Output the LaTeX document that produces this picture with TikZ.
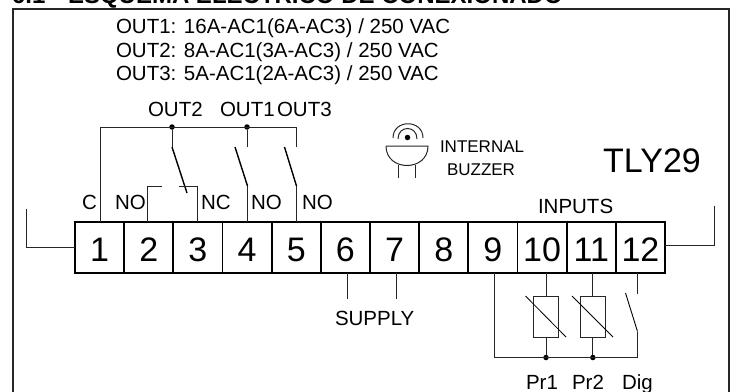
\documentclass[tikz,border=0pt]{standalone}
\usepackage{fontspec}
\setmainfont{Liberation Sans}
\newcommand{\fsz}[1]{\fontsize{#1}{#1}\selectfont}
\begin{document}
\begin{tikzpicture}[x=1pt,y=-1pt,
  lbl/.style={inner sep=0pt,outer sep=0pt,anchor=base west,font=\fsz{20.5}},
  small/.style={inner sep=0pt,outer sep=0pt,anchor=base west,font=\fsz{17}},
  titletext/.style={inner sep=0pt,outer sep=0pt,anchor=base west,font=\fsz{24}\bfseries},
  term/.style={draw=black,line width=1.9pt,inner sep=0pt,outer sep=0pt,minimum width=49.17pt,minimum height=51pt,text height=27pt,text depth=0pt,font=\fsz{34}},
  wire/.style={draw=black!85,line width=0.8pt},
  blade/.style={draw=black,line width=1.4pt},
  thinblade/.style={draw=black,line width=0.9pt},
  frame/.style={draw=black!85,line width=1.1pt},
  dotnode/.style={circle,fill=black,inner sep=0pt,minimum size=5.5pt},
  res/.style={draw=black!85,line width=0.8pt,inner sep=0pt,minimum width=24.5pt,minimum height=41pt}]
\useasboundingbox (0,0) rectangle (733,391);
\clip (0,0) rectangle (733,391);
% title
\node[titletext] (tnum) at (12,3) {6.1};
\node[titletext] (ttl) at (68,3) {ESQUEMA ELECTRICO DE CONEXIONADO};
% frame
\draw[frame] (13,392) -- (13,9) -- (729,9) -- (729,392);
% ratings
\node[lbl] (r1) at (116,33) {OUT1: 16A-AC1(6A-AC3) / 250 VAC};
\node[lbl] (r2) at (116,57) {OUT2: 8A-AC1(3A-AC3) / 250 VAC};
\node[lbl] (r3) at (116,80) {OUT3: 5A-AC1(2A-AC3) / 250 VAC};
\node[lbl] (o2) at (148,116) {OUT2};
\node[lbl] (o1) at (220,116) {OUT1};
\node[lbl] (o3) at (277,116) {OUT3};
% terminals
\foreach \i in {1,...,12}{
  \node[term] (t\i) at ({75+49.17*(\i-0.5)},247.5) {\i};
}
% outer brackets
\coordinate (bl1) at (26,209);
\coordinate (bl2) at (26,247.5);
\coordinate (br1) at (714,206);
\coordinate (br2) at (714,245);
\draw[wire] (bl1) -- (bl2) -- (t1.west);
\draw[wire] (br1) -- (br2) -- (t12.east |- br2);
% relay wiring
\coordinate (c1) at (100.5,222);
\coordinate (c2) at (100.5,127);
\coordinate (c3) at (296.5,127);
\coordinate (c4) at (296.5,147);
\node[dotnode] (d1) at (172,127) {};
\node[dotnode] (d2) at (247,127) {};
\draw[wire] (c1) -- (c2) -- (c3) -- (c4);
\coordinate (a1) at (172,147);
\coordinate (a2) at (187,193);
\coordinate (a3) at (247,147);
\coordinate (b1) at (235,147);
\coordinate (b2) at (247.5,186);
\coordinate (b3) at (247.5,222);
\coordinate (e1) at (284.5,147);
\coordinate (e2) at (296.5,186);
\coordinate (e3) at (296.5,222);
\draw[wire] (d1) -- (a1);
\draw[wire] (d2) -- (a3);
\draw[blade] (a1) -- (a2);
\draw[blade] (b1) -- (b2);
\draw[blade] (e1) -- (e2);
\draw[wire] (b2) -- (b3);
\draw[wire] (e2) -- (e3);
\coordinate (n1) at (147.5,222);
\coordinate (n2) at (147.5,186);
\coordinate (n3) at (162,186);
\coordinate (m1) at (179,186);
\coordinate (m2) at (197,186);
\coordinate (m3) at (197,222);
\draw[wire] (n1) -- (n2) -- (n3);
\draw[wire] (m1) -- (m2) -- (m3);
% contact labels
\node[lbl] (lc) at (82,209) {C};
\node[lbl] (ln1) at (115,209) {NO};
\node[lbl] (lnc) at (201,209) {NC};
\node[lbl] (ln2) at (251,209) {NO};
\node[lbl] (ln3) at (302,209) {NO};
% buzzer
\node[dotnode] (bd) at (407.5,137.5) {};
\draw[wire,line width=1pt] (393,138) .. controls (393,119) and (423,119) .. (423,138);
\draw[wire,line width=1pt] (398,139) .. controls (398,125) and (417,125) .. (417,139);
\draw[wire,line width=1pt] (386,146) -- (428,146) .. controls (428,172) and (386,172) .. (386,146);
\draw[wire] (398.5,165) -- (398.5,178);
\draw[wire] (415.5,165) -- (415.5,178);
\node[small] (bz1) at (440,152) {INTERNAL};
\node[small] (bz2) at (447,175) {BUZZER};
\node[inner sep=0pt,anchor=base west,font=\fsz{34}] (model) at (603,172) {TLY29};
% supply
\coordinate (s1) at (347.5,299);
\coordinate (s2) at (396.5,299);
\coordinate (s3) at (347.5,273);
\coordinate (s4) at (396.5,273);
\draw[wire] (s3) -- (s1);
\draw[wire] (s4) -- (s2);
\node[lbl] (sup) at (335,325) {SUPPLY};
% inputs
\node[lbl] (inp) at (538,213) {INPUTS};
\node[res] (r10) at (546,316.5) {};
\node[res] (r11) at (592.8,316.5) {};
\node[dotnode] (j1) at (546,357.5) {};
\node[dotnode] (j2) at (592.8,357.5) {};
\coordinate (k1) at (494.5,273);
\coordinate (k2) at (494.5,357.5);
\coordinate (k3) at (637.5,357.5);
\coordinate (k4) at (637.5,331.5);
\coordinate (k5) at (625.5,293);
\coordinate (k6) at (637.5,293.5);
\coordinate (k7) at (637.5,273);
\coordinate (w1) at (546,273);
\coordinate (w2) at (592.8,273);
\draw[wire] (k1) -- (k2) -- (k3) -- (k4);
\draw[thinblade] (k4) -- (k5);
\draw[wire] (k7) -- (k6);
\draw[wire] (w1) -- (r10.north);
\draw[wire] (r10.south) -- (j1);
\draw[wire] (w2) -- (r11.north);
\draw[wire] (r11.south) -- (j2);
\draw[wire,black] (525.5,296) -- (566,337);
\draw[wire,black] (572,296) -- (613,337);
\node[lbl] (p1) at (526,389) {Pr1};
\node[lbl] (p2) at (572,389) {Pr2};
\node[lbl] (dg) at (622,389) {Dig};
\end{tikzpicture}
\end{document}
